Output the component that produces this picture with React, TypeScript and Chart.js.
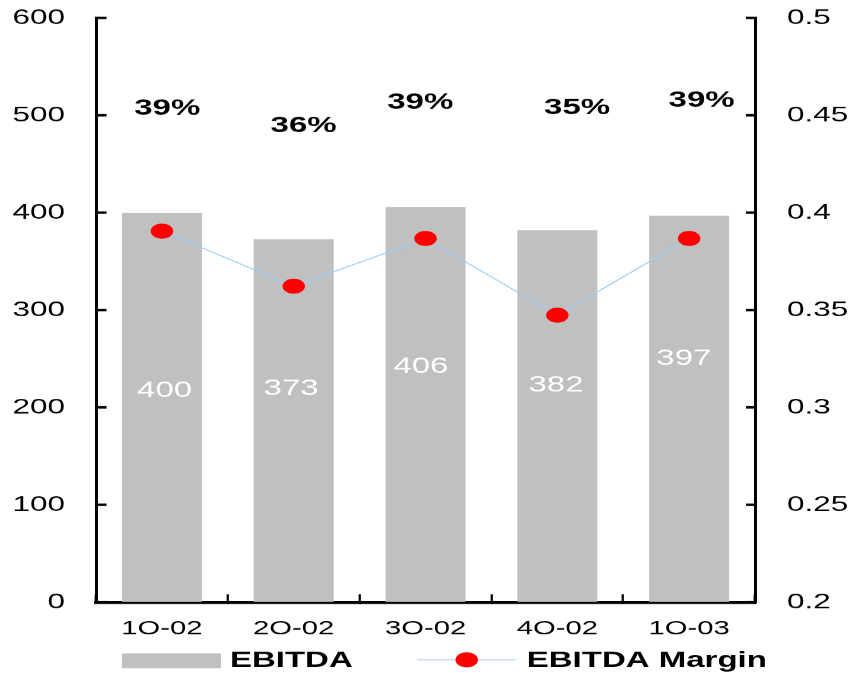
import React, { useEffect, useRef } from 'react';
import { Chart, registerables } from 'chart.js';

Chart.register(...registerables);

// ---- data ----
const categories = ['1Q-02', '2Q-02', '3Q-02', '4Q-02', '1Q-03'];
const ebitda = [400, 373, 406, 382, 397];
const ebitdaMargin = [0.3906, 0.3623, 0.3868, 0.3474, 0.3868];
const seriesNames = ['EBITDA', 'EBITDA Margin'];
const leftAxis = { min: 0, max: 600, step: 100 };
const rightAxis = { min: 0.2, max: 0.5, step: 0.05 };

// ---- annotation placement (left-axis units / fraction of a category) ----
const barLabelLevel = [217, 219.5, 242, 222.5, 250];
const barLabelShift = [0.02, -0.02, -0.035, -0.01, -0.04];
const marginLabelLevel = [507, 489, 513, 507.5, 515];
const marginLabelShift = [0.04, 0.075, -0.04, 0.15, 0.095];

// ---- styles ----
const BAR = '#c0c0c0';
const LINE = '#99ccff';
const DOT = '#ff0000';
const FONT = '"Liberation Sans", Arial, sans-serif';

const annotations = {
  id: 'annotations',
  afterDatasetsDraw(chart: any) {
    const ctx = chart.ctx;
    const x = chart.scales.x;
    const y = chart.scales.y;
    const cw = chart.chartArea.width / categories.length;
    ctx.save();
    ctx.textAlign = 'center';
    ctx.textBaseline = 'middle';
    ctx.fillStyle = '#ffffff';
    ctx.font = `22px ${FONT}`;
    ebitda.forEach((v, i) => {
      ctx.fillText(String(v), x.getPixelForValue(i) + barLabelShift[i] * cw, y.getPixelForValue(barLabelLevel[i]));
    });
    ctx.fillStyle = '#000000';
    ctx.font = `bold 22px ${FONT}`;
    ebitdaMargin.forEach((v, i) => {
      ctx.fillText(Math.round(v * 100) + '%', x.getPixelForValue(i) + marginLabelShift[i] * cw, y.getPixelForValue(marginLabelLevel[i]));
    });
    ctx.restore();
  },
  afterDraw(chart: any) {
    // legend: grey swatch + "EBITDA", line-with-dot + "EBITDA Margin"
    const ctx = chart.ctx;
    const area = chart.chartArea;
    const cy = chart.scales.x.bottom + 26.5;
    ctx.save();
    ctx.font = `bold 22px ${FONT}`;
    ctx.textBaseline = 'middle';
    ctx.textAlign = 'left';
    const sw = 66;
    const w1 = ctx.measureText(seriesNames[0]).width;
    const w2 = ctx.measureText(seriesNames[1]).width;
    const total = sw + 6 + w1 + 43 + sw + 7 + w2;
    let x0 = (area.left + area.right) / 2 + 12.6 - total / 2;
    ctx.fillStyle = BAR;
    ctx.fillRect(x0, cy - 7.5, sw, 15);
    x0 += sw + 6;
    ctx.fillStyle = '#000';
    ctx.fillText(seriesNames[0], x0, cy);
    x0 += w1 + 43;
    ctx.strokeStyle = LINE;
    ctx.lineWidth = 1;
    ctx.beginPath();
    ctx.moveTo(x0, cy - 1);
    ctx.lineTo(x0 + sw, cy - 1);
    ctx.stroke();
    ctx.fillStyle = DOT;
    ctx.beginPath();
    ctx.arc(x0 + sw / 2, cy - 1, 7.5, 0, Math.PI * 2);
    ctx.fill();
    x0 += sw + 7;
    ctx.fillStyle = '#000';
    ctx.fillText(seriesNames[1], x0, cy);
    ctx.restore();
  },
};

export default function App() {
  const ref = useRef<HTMLCanvasElement | null>(null);

  useEffect(() => {
    if (!ref.current) return;
    Chart.defaults.font.family = FONT;
    const chart = new Chart(ref.current, {
      type: 'bar',
      data: {
        labels: categories,
        datasets: [
          {
            type: 'bar',
            label: seriesNames[0],
            data: ebitda,
            backgroundColor: BAR,
            borderWidth: 0,
            barPercentage: 0.607,
            categoryPercentage: 1,
            yAxisID: 'y',
            order: 1,
          },
          {
            type: 'line',
            label: seriesNames[1],
            data: ebitdaMargin,
            borderColor: LINE,
            borderWidth: 1,
            pointRadius: 7.5,
            pointBackgroundColor: DOT,
            pointBorderWidth: 0,
            pointBorderColor: DOT,
            yAxisID: 'y1',
            order: 0,
          },
        ],
      } as any,
      options: {
        responsive: true,
        maintainAspectRatio: false,
        animation: false,
        devicePixelRatio: 1.5,
        events: [],
        layout: { padding: { left: 0, right: 0, top: 0, bottom: 39 } },
        plugins: {
          tooltip: { enabled: false },
          legend: { display: false },
        },
        scales: {
          x: {
            type: 'category',
            offset: true,
            grid: { offset: true, drawOnChartArea: false, tickLength: -8, tickWidth: 1.5, color: '#000' },
            border: { display: true, color: '#000', width: 3 },
            ticks: { color: '#000', font: { size: 19.5 }, padding: 23, maxRotation: 0, autoSkip: false },
            afterFit: (s: any) => { s.height = 32; },
          },
          y: {
            position: 'left',
            min: leftAxis.min,
            max: leftAxis.max,
            ticks: { stepSize: leftAxis.step, color: '#000', font: { size: 21, lineHeight: 1 }, padding: 27.7 },
            grid: { drawOnChartArea: false, tickLength: -7, tickWidth: 2.5, color: '#000' },
            border: { color: '#000', width: 2 },
            afterFit: (s: any) => { s.width = 58.7; s.paddingTop = 10; s.paddingBottom = 10; },
          },
          y1: {
            position: 'right',
            min: rightAxis.min,
            max: rightAxis.max,
            ticks: {
              stepSize: rightAxis.step,
              color: '#000',
              font: { size: 21, lineHeight: 1 },
              padding: 27.3,
              callback: (v: any) => String(Number(Number(v).toFixed(2))),
            },
            grid: { drawOnChartArea: false, tickLength: -6, tickWidth: 2.5, color: '#000' },
            border: { color: '#000', width: 2 },
            afterFit: (s: any) => { s.width = 66; s.paddingTop = 10; s.paddingBottom = 10; },
          },
        },
      } as any,
      plugins: [annotations],
    });
    return () => chart.destroy();
  }, []);

  return (
    <div style={{ position: 'fixed', left: 8, top: 8, width: 847, height: 665, overflow: 'hidden', background: '#fff' }}>
      <div style={{ width: 564, height: 665, transform: 'scaleX(1.5)', transformOrigin: '0 0' }}>
        <canvas ref={ref} />
      </div>
    </div>
  );
}
